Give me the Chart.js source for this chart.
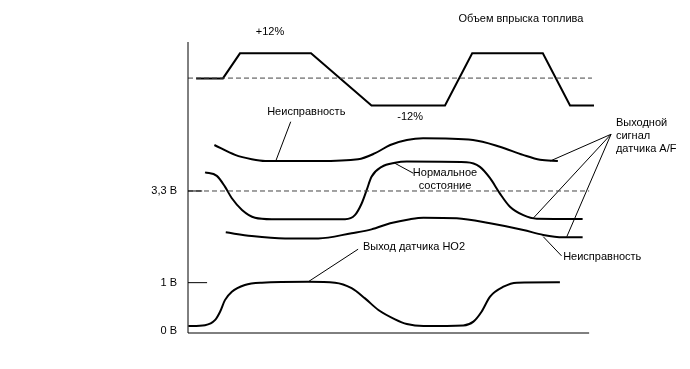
<!DOCTYPE html>
<html lang="ru">
<head>
  <meta charset="UTF-8" />
  <title>Объем впрыска топлива</title>
  <style>
    html, body { margin: 0; padding: 0; background: #fff; }
    canvas { display: block; }
  </style>
</head>
<body>
  <canvas id="diagram" width="690" height="369"></canvas>

  <script src="https://cdn.jsdelivr.net/npm/chart.js"></script>
  <script>
    // time axis 0..100, diagram height 0..100 (0 = 0 В baseline)

    // fuel injection volume (+12% / -12%)
    const fuelX = [2.0, 8.6, 12.8, 30.3, 45.2, 63.3, 70.0, 87.4, 94.1, 100];
    const fuelY = [87.5, 87.5, 96.1, 96.1, 78.2, 78.2, 96.1, 96.1, 78.2, 78.2];

    // A/F sensor output, malfunction (upper)
    const afFaultHiX = [6.5, 11.6, 15.7, 19.0, 32.1, 41.9, 46.1, 49.8, 53.9, 57.9, 70.2, 76.8, 82.5, 86.7, 91.1];
    const afFaultHiY = [64.6, 61.2, 59.7, 59.1, 59.1, 59.7, 61.8, 64.6, 66.3, 66.9, 66.3, 64.0, 61.2, 59.5, 59.1];

    // A/F sensor output, normal
    const afNormalX = [4.2, 7.1, 9.1, 10.8, 13.3, 16.5, 20.6, 38.7, 41.1, 42.8, 44.0, 45.2, 47.7, 51.0, 53.9, 68.6, 71.9, 74.4, 76.8, 79.3, 82.6, 85.9, 97.2];
    const afNormalY = [55.2, 54.0, 50.3, 46.3, 42.3, 39.6, 39.1, 39.1, 40.5, 44.6, 49.1, 53.7, 57.1, 58.5, 58.9, 58.7, 57.1, 53.2, 48.0, 43.4, 40.5, 39.3, 39.2];

    // A/F sensor output, malfunction (lower)
    const afFaultLoX = [9.3, 15.7, 23.9, 32.1, 40.3, 45.2, 49.8, 54.7, 58.0, 66.2, 74.4, 82.6, 87.5, 92.4, 97.2];
    const afFaultLoY = [34.6, 33.3, 32.5, 32.5, 34.3, 35.6, 37.7, 39.1, 39.6, 39.4, 37.7, 35.4, 33.7, 32.9, 32.9];

    // HO2 sensor output
    const ho2X = [0.1, 4.2, 6.7, 7.9, 9.1, 10.8, 14.0, 18.2, 29.6, 36.2, 40.3, 43.6, 46.9, 51.0, 53.9, 58.0, 67.8, 70.3, 72.3, 74.4, 77.7, 81.0, 91.6];
    const ho2Y = [2.4, 2.7, 4.5, 7.3, 11.3, 14.2, 16.5, 17.3, 17.6, 17.3, 15.4, 11.9, 7.9, 4.7, 3.1, 2.4, 2.6, 3.9, 7.3, 12.5, 15.9, 17.3, 17.4];

    // reference levels
    const levelNames = ['0 В', '1 В', '3,3 В'];
    const levelY = [0.7, 17.3, 48.8];
    const fuelBaseY = 87.6;

    // leader lines: [x1, y1, x2, y2]
    const leaders = [
      [25.3, 72.6, 21.7, 59.4],
      [51.0, 58.3, 55.5, 54.9],
      [104.2, 68.3, 89.2, 59.1],
      [104.2, 68.3, 85.0, 39.4],
      [104.2, 68.3, 93.3, 33.1],
      [87.5, 33.1, 92.0, 26.5],
      [41.9, 28.8, 29.6, 17.6]
    ];

    // text labels
    const noteTexts = ['Объем впрыска топлива', '+12%', '-12%', 'Неисправность', 'Нормальное', 'состояние',
      'Выходной', 'сигнал', 'датчика A/F', 'Неисправность', 'Выход датчика HO2'];
    const noteX = [66.6, 20.2, 54.7, 19.5, 63.3, 63.3, 105.4, 105.4, 105.4, 92.4, 43.1];
    const noteY = [107.9, 103.4, 74.2, 76.0, 54.9, 50.5, 72.2, 67.7, 63.2, 26.1, 29.6];
    const noteAlign = ['left', 'center', 'center', 'left', 'center', 'center', 'left', 'left', 'left', 'left', 'left'];

    const pts = (xs, ys) => xs.map((x, i) => ({ x: x, y: ys[i] }));

    const curve = (xs, ys) => ({
      data: pts(xs, ys),
      borderColor: '#000',
      borderWidth: 2,
      cubicInterpolationMode: 'monotone',
      clip: false
    });
    const straight = (data, width, dash) => ({
      data: data,
      borderColor: dash ? '#444' : '#000',
      borderWidth: width,
      borderDash: dash || [],
      tension: 0,
      clip: false
    });

    const datasets = [
      // axes
      straight([{ x: 0, y: 0 }, { x: 0, y: 100 }], 1),
      straight([{ x: 0, y: 0 }, { x: 98.8, y: 0 }], 1),
      straight([{ x: 0, y: levelY[1] }, { x: 4.7, y: levelY[1] }], 1),
      straight([{ x: 0, y: levelY[2] }, { x: 3.5, y: levelY[2] }], 1),
      straight([{ x: 0, y: levelY[2] }, { x: 98.8, y: levelY[2] }], 1, [5, 3]),
      straight([{ x: 0, y: fuelBaseY }, { x: 99.5, y: fuelBaseY }], 1, [5, 3]),
      // fuel trapezoid
      straight(pts(fuelX, fuelY), 2),
      // sensor curves
      curve(afFaultHiX, afFaultHiY),
      curve(afNormalX, afNormalY),
      curve(afFaultLoX, afFaultLoY),
      curve(ho2X, ho2Y)
    ];
    leaders.forEach(l => datasets.push(straight([{ x: l[0], y: l[1] }, { x: l[2], y: l[3] }], 1)));

    // draws the labels in data coordinates
    const notesPlugin = {
      id: 'notes',
      afterDatasetsDraw(chart) {
        const ctx = chart.ctx;
        const xs = chart.scales.x, ys = chart.scales.y;
        ctx.save();
        ctx.fillStyle = '#000';
        ctx.font = '11px Arial, "Liberation Sans", sans-serif';
        ctx.textBaseline = 'middle';
        noteTexts.forEach((t, i) => {
          ctx.textAlign = noteAlign[i];
          ctx.fillText(t, xs.getPixelForValue(noteX[i]), ys.getPixelForValue(noteY[i]));
        });
        ctx.textAlign = 'right';
        levelNames.forEach((t, i) => {
          ctx.fillText(t, xs.getPixelForValue(-2.7), ys.getPixelForValue(levelY[i]));
        });
        ctx.restore();
      }
    };

    new Chart(document.getElementById('diagram'), {
      type: 'line',
      data: { datasets: datasets },
      options: {
        responsive: false,
        devicePixelRatio: 1,
        animation: false,
        parsing: true,
        layout: { padding: { left: 188, right: 96, top: 42, bottom: 36 } },
        elements: { point: { radius: 0, hoverRadius: 0 } },
        scales: {
          x: { type: 'linear', min: 0, max: 100, display: false },
          y: { type: 'linear', min: 0, max: 100, display: false }
        },
        plugins: {
          legend: { display: false },
          tooltip: { enabled: false }
        }
      },
      plugins: [notesPlugin]
    });
  </script>
</body>
</html>
